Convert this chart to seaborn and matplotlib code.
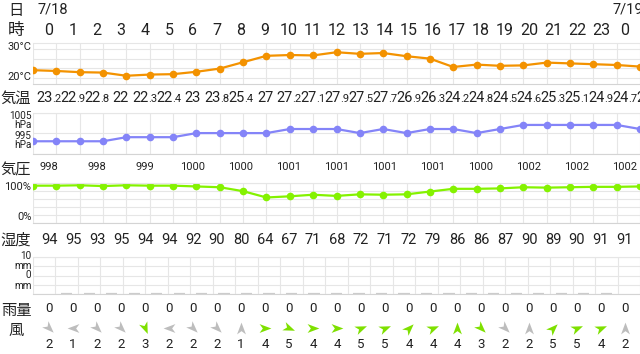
import numpy as np
import pandas as pd
import matplotlib
matplotlib.use("Agg")
import matplotlib.pyplot as plt
import seaborn as sns
from matplotlib.markers import MarkerStyle
from matplotlib.path import Path
from matplotlib.transforms import Affine2D

# --- data (7/18 0h .. 7/19 0h) ---
dates = ["7/18", "7/19"]
hour_labels = list(range(24)) + [0]
temps = [23.2, 22.9, 22.8, 22, 22.3, 22.4, 23, 23.8, 25.4, 27, 27.2, 27.1, 27.9,
         27.5, 27.7, 26.9, 26.3, 24.2, 24.8, 24.5, 24.6, 25.3, 25.1, 24.9, 24.7]
temp_edges = [23.4, 24.3]          # hour before / after the window
pressure = [998, 998, 998, 999, 999, 999, 1000, 1000, 1000, 1000, 1001, 1001, 1001,
            1000, 1001, 1000, 1001, 1001, 1000, 1001, 1002, 1002, 1002, 1002, 1002]
pressure_edges = [998, 1001]
humidity = [94, 95, 93, 95, 94, 94, 92, 90, 80, 64, 67, 71, 68,
            72, 71, 72, 79, 86, 86, 87, 90, 89, 90, 91, 91]
humidity_edges = [94, 92]
rain = [0, 0, 0, 0, 0, 0, 0, 0, 0, 0, 0, 0, 0,
        0, 0, 0, 0, 0, 0, 0, 0, 0, 0, 0, 0]
wind_speed = [2, 1, 2, 2, 3, 2, 2, 2, 1, 4, 5, 4, 4,
              5, 5, 4, 4, 4, 3, 2, 2, 5, 5, 4, 2]
wind_from = ["NW", "E", "NW", "NW", "NNW", "E", "NW", "NW", "S", "W", "WNW", "W", "W",
             "WSW", "WSW", "SW", "WSW", "S", "NW", "NW", "S", "SW", "WSW", "WSW", "S"]

COMPASS = ["N", "NNE", "NE", "ENE", "E", "ESE", "SE", "SSE",
           "S", "SSW", "SW", "WSW", "W", "WNW", "NW", "NNW"]

ORANGE = "#f39200"
PURPLE = "#8484f8"
LIME = "#84f200"
WIND_GREEN = "#7ee000"
WIND_GRAY = "#bdbdbd"
INK = "#222222"
GRID = "#e6e6e6"

sns.set_theme(style="white")
plt.rcParams["font.family"] = ["Roboto", "Noto Sans CJK JP", "DejaVu Sans"]
JP = ["Noto Sans CJK JP", "DejaVu Sans"]
NARROW = ["Liberation Sans Narrow", "Roboto"]

W, H = 640, 354
X0 = 33
XLIM = (-16 / 24, 591 / 24)

fig = plt.figure(figsize=(6.4, 3.54), dpi=100)

pos = np.arange(-1, 26)
df = pd.DataFrame({
    "pos": pos,
    "temp": [temp_edges[0]] + temps + [temp_edges[1]],
    "pres": [pressure_edges[0]] + pressure + [pressure_edges[1]],
    "hum": [humidity_edges[0]] + humidity + [humidity_edges[1]],
})
cols = np.arange(len(hour_labels))


def add_panel(top, bottom, ylim, yticks, xticks):
    ax = fig.add_axes([X0 / W, 1 - bottom / H, (W - X0) / W, (bottom - top) / H])
    ax.set_xlim(*XLIM)
    ax.set_ylim(*ylim)
    ax.set_xticks(xticks)
    ax.set_yticks(yticks)
    ax.set_axisbelow(True)
    ax.grid(True, color=GRID, lw=0.8)
    ax.tick_params(length=0, labelbottom=False, labelleft=False)
    ax.spines["left"].set_visible(False)
    ax.spines["right"].set_visible(False)
    ax.spines["top"].set_color(GRID)
    ax.spines["bottom"].set_color("#d4d4d4")
    for s in ax.spines.values():
        s.set_linewidth(0.8)
    ax.set_facecolor("none")
    return ax


line_kw = dict(lw=1.6, marker="o", markersize=5.5, markeredgewidth=0)

# temperature
ax_t = add_panel(43.3, 83.5, (20.06, 30.14), np.linspace(21.5, 28.7, 4), pos)
sns.lineplot(data=df, x="pos", y="temp", ax=ax_t, color=ORANGE, **line_kw)

# pressure
ax_p = add_panel(112.7, 153.5, (995, 1005), [995, 1000, 1005], pos)
sns.lineplot(data=df, x="pos", y="pres", ax=ax_p, color=PURPLE, **line_kw)

# humidity
ax_h = add_panel(183.3, 222.7, (0, 100), np.arange(0, 101, 20), pos)
sns.lineplot(data=df, x="pos", y="hum", ax=ax_h, color=LIME, **line_kw)

# rain
ax_r = add_panel(257, 294, (0, 10), np.linspace(0, 10, 5), np.arange(-1.5, 26, 1))
ax_r.bar(cols, rain, width=0.5, color="#cccccc", edgecolor="#cccccc", lw=1.6)

for ax in (ax_t, ax_p, ax_h, ax_r):
    ax.set(xlabel="", ylabel="")

# text rows live on a full-height axes sharing the hour scale
tab = fig.add_axes([X0 / W, 0, (W - X0) / W, 1])
tab.set_xlim(*XLIM)
tab.set_ylim(H, 0)
tab.axis("off")
tab.patch.set_alpha(0)

tab.text(-0.5, 10, dates[0], ha="left", va="center", size=10.5, color=INK)
tab.text(23.5, 10, dates[1], ha="left", va="center", size=10.5, color=INK)

for c, h in zip(cols, hour_labels):
    tab.text(c, 30.5, str(h), ha="center", va="center", size=11.5, color=INK)


def temp_label(x, v):
    whole, _, frac = f"{v:g}".partition(".")
    if not frac:
        tab.text(x, 102, whole, ha="center", va="baseline", size=10.5,
                 fontfamily=NARROW, color=INK, clip_on=False)
        return
    tab.text(x + 0.15, 102, whole, ha="right", va="baseline", size=10.5,
             fontfamily=NARROW, color=INK, clip_on=False)
    tab.text(x + 0.15, 102, "." + frac, ha="left", va="baseline", size=8,
             fontfamily=NARROW, color=INK, clip_on=False)


for c, v in zip(cols, temps):
    temp_label(c, v)
temp_label(len(temps), temp_edges[1])

for c, v in zip(cols[::2], pressure[::2]):
    tab.text(c, 167, str(v), ha="center", va="center", size=8, color=INK)

for c, v in zip(cols, humidity):
    tab.text(c, 240, str(v), ha="center", va="center", size=10.5,
             fontfamily=NARROW, color=INK)

for c, v in zip(cols, rain):
    tab.text(c, 308.5, str(v), ha="center", va="center", size=9.5, color=INK)

# wind arrows
arrow = Path([(1, 0), (-1, 0.75), (-0.45, 0), (-1, -0.75), (1, 0)],
             [Path.MOVETO, Path.LINETO, Path.LINETO, Path.LINETO, Path.CLOSEPOLY])
for c, d, s in zip(cols, wind_from, wind_speed):
    bearing = COMPASS.index(d) * 22.5
    m = MarkerStyle(arrow, transform=Affine2D().rotate_deg(-90 - bearing))
    tab.plot([c], [328], linestyle="none", marker=m, markersize=8.5, markeredgewidth=0,
             color=WIND_GREEN if s >= 3 else WIND_GRAY)
    tab.text(c, 344, str(s), ha="center", va="center", size=9.5, color=INK)

# row titles and axis notes (pixel positions)
def px_text(x, y, s, **kw):
    fig.text(x / W, 1 - y / H, s, color=INK, **kw)


for y, s, size in [(10, "日", 11), (31, "時", 12), (98.5, "気温", 11), (170, "気圧", 11),
                   (240, "湿度", 11), (310, "雨量", 11), (330, "風", 11)]:
    px_text(16, y, s, ha="center", va="center", size=size, fontfamily=JP)

for y, s in [(46.5, "30°C"), (76.7, "20°C"), (186.7, "100%"), (216.7, "0%")]:
    px_text(31.5, y, s, ha="right", va="center", size=8)

for y, s in [(116, "1005"), (125.5, "hPa"), (135.7, "995"), (145, "hPa"),
             (256, "10"), (266, "mm"), (275.5, "0"), (286, "mm")]:
    px_text(31.5, y, s, ha="right", va="center", size=7.2)

fig.savefig("out.png", dpi=100, facecolor="white")
